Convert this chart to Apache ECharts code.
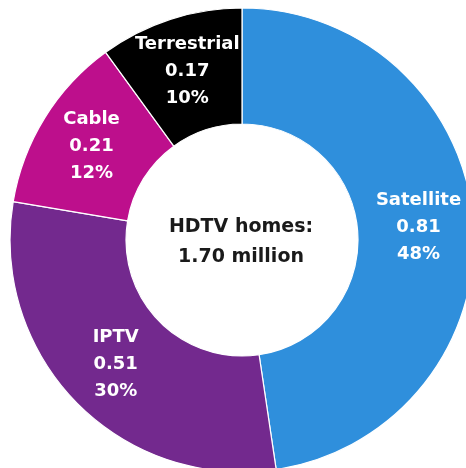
<!DOCTYPE html>
<html>
<head>
<meta charset="utf-8">
<script src="https://cdn.jsdelivr.net/npm/echarts@6/dist/echarts.min.js"></script>
<style>
html,body{margin:0;padding:0;background:#fff;}
#chart{width:466px;height:468px;}
</style>
</head>
<body>
<div id="chart"></div>
<script>
const categories = ['Satellite', 'IPTV', 'Cable', 'Terrestrial'];
const values = [0.81, 0.51, 0.21, 0.17];
const colors = ['#2f8fdc', '#73298e', '#bd0f8c', '#000000'];
const centerTitle = 'HDTV homes:';
const unit = 'million';

const total = values.reduce((a, b) => a + b, 0);
const chart = echarts.init(document.getElementById('chart'), null, {renderer: 'canvas'});
chart.setOption({
  animation: false,
  backgroundColor: '#ffffff',
  series: [{
    type: 'pie',
    center: [242, 240],
    radius: [116, 232],
    startAngle: 90,
    clockwise: true,
    avoidLabelOverlap: false,
    itemStyle: {borderColor: '#ffffff', borderWidth: 1.2},
    label: {
      show: true,
      position: 'inside',
      color: '#ffffff',
      fontFamily: 'DejaVu Sans',
      fontWeight: 'bold',
      fontSize: 18,
      lineHeight: 27,
      formatter: p => p.name + '\n' + p.value.toFixed(2) + '\n' + Math.round(p.value / total * 100) + '%'
    },
    labelLine: {show: false},
    emphasis: {disabled: true},
    data: categories.map((c, i) => ({name: c, value: values[i], itemStyle: {color: colors[i]}}))
  }],
  graphic: [{
    type: 'text',
    x: 241,
    y: 242,
    style: {
      text: centerTitle + '\n' + total.toFixed(2) + ' ' + unit,
      fill: '#1a1a1a',
      font: 'bold 19px "DejaVu Sans"',
      lineHeight: 30,
      align: 'center',
      verticalAlign: 'middle'
    }
  }]
});
</script>
</body>
</html>
